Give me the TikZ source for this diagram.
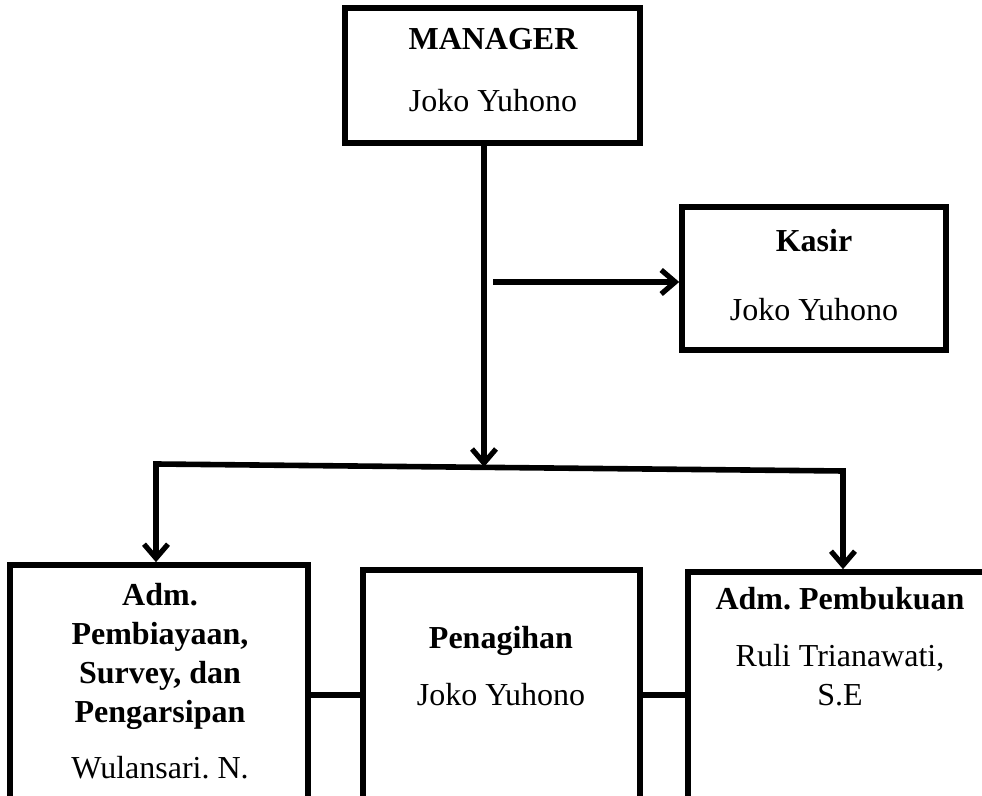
\documentclass[tikz,border=0pt]{standalone}
\usepackage{fontspec}
\setmainfont{Liberation Serif}
\frenchspacing
\usetikzlibrary{arrows.meta}
\tikzset{
  box/.style={draw=black, line width=2.8pt, fill=white, rectangle, inner sep=0pt},
  conn/.style={draw=black, line width=2.8pt, line join=miter},
  tip/.tip={Straight Barb[length=7pt,width=12pt,line width=2.6pt]},
  arr/.style={conn, -tip},
  txt/.style={inner sep=0pt, font=\fontsize{16}{19.7}\selectfont, text height=1.5ex, text depth=.25ex},
  btxt/.style={txt, font=\fontsize{16}{19.7}\selectfont\bfseries},
}
\begin{document}
\begin{tikzpicture}[x=0.5pt,y=-0.5pt]
\useasboundingbox (0,0) rectangle (982,796);
\clip (0,0) rectangle (982,796);
% boxes
\node[box, minimum width=147.5pt, minimum height=67.5pt] (m) at (492.5,75.5) {};
\node[box, minimum width=132pt, minimum height=71.5pt] (k) at (814,278.5) {};
\node[box, minimum width=149pt, minimum height=142.5pt] (a) at (159,707.5) {};
\node[box, minimum width=138.5pt, minimum height=140pt] (p) at (501.5,710) {};
\node[box, minimum width=161pt, minimum height=139pt] (r) at (849,711) {};
% texts
\node[btxt] (mt) at (493,44) {MANAGER};
\node[txt] (mn) at (493,106) {Joko Yuhono};
\node[btxt] (kt) at (814,246) {Kasir};
\node[txt] (kn) at (814,315) {Joko Yuhono};
\node[btxt] (a1) at (160,600) {Adm.};
\node[btxt] (a2) at (160,639) {Pembiayaan,};
\node[btxt] (a3) at (160,678) {Survey, dan};
\node[btxt] (a4) at (160,717) {Pengarsipan};
\node[txt] (an) at (160,773) {Wulansari. N.};
\node[btxt] (pt) at (501,643) {Penagihan};
\node[txt] (pn) at (501,700) {Joko Yuhono};
\node[btxt] (rt) at (840,604) {Adm. Pembukuan};
\node[txt] (rn1) at (840,661) {Ruli Trianawati,};
\node[txt] (rn2) at (840,700) {S.E};
% connector points
\coordinate (j) at (484,467);
\coordinate (bl) at (156,464);
\coordinate (br) at (843,471);
\coordinate (ks) at (493,282);
\coordinate (hy) at (0,695);
% connectors
\draw[arr] (j |- m.south) -- (j);
\draw[conn, tip-tip] (bl |- a.north) -- (bl) -- (br) -- (br |- r.north);
\draw[arr] (ks) -- (k.west |- ks);
\draw[conn] (a.east |- hy) -- (p.west |- hy);
\draw[conn] (p.east |- hy) -- (r.west |- hy);
\end{tikzpicture}
\end{document}
